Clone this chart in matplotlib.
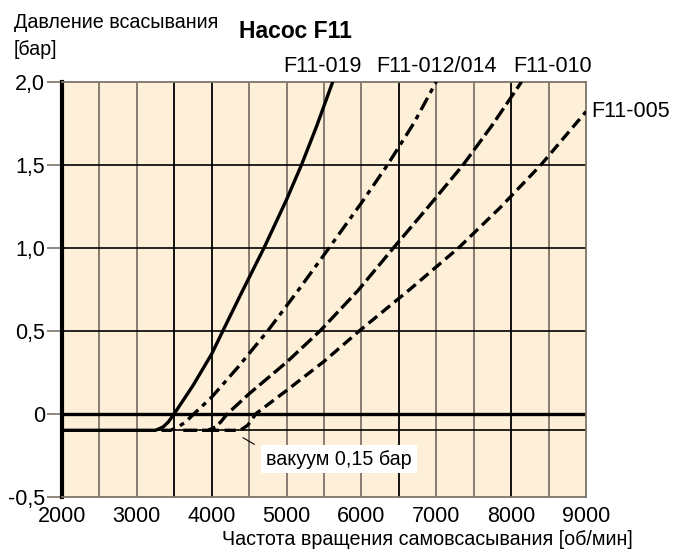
import matplotlib
matplotlib.use("Agg")
import matplotlib.pyplot as plt

plt.rcParams['font.family'] = ['Liberation Sans', 'DejaVu Sans']
plt.rcParams['lines.scale_dashes'] = False

# ---- data ----
rpm_019 = [2000, 3250, 3350, 3420, 3500, 3750, 4000, 4150, 4400, 4700, 5000, 5200, 5400, 5617]
p_019 = [-0.1, -0.1, -0.08, -0.05, 0.0, 0.17, 0.36, 0.5, 0.73, 1.0, 1.29, 1.5, 1.73, 2.0]

rpm_012 = [3330, 3450, 3550, 3650, 3765, 4000, 4350, 4750, 5150, 5570, 6000, 6350, 6700, 7000]
p_012 = [-0.1, -0.1, -0.08, -0.05, 0.0, 0.1, 0.28, 0.5, 0.74, 1.0, 1.27, 1.5, 1.75, 2.0]

rpm_010 = [3620, 3950, 4050, 4120, 4210, 4500, 5000, 5450, 5950, 6430, 6900, 7360, 7750, 8140]
p_010 = [-0.1, -0.1, -0.08, -0.05, 0.0, 0.12, 0.31, 0.5, 0.74, 1.0, 1.25, 1.5, 1.74, 2.0]

rpm_005 = [3950, 4380, 4480, 4530, 4590, 5000, 5500, 5975, 6650, 7300, 7850, 8400, 9000]
p_005 = [-0.1, -0.1, -0.07, -0.04, 0.0, 0.14, 0.315, 0.5, 0.75, 1.0, 1.24, 1.5, 1.82]

series_names = ['F11-019', 'F11-012/014', 'F11-010', 'F11-005']
x_ticks = [2000, 3000, 4000, 5000, 6000, 7000, 8000, 9000]
x_tick_labels = ['2000', '3000', '4000', '5000', '6000', '7000', '8000', '9000']
y_ticks = [-0.5, 0.0, 0.5, 1.0, 1.5, 2.0]
y_tick_labels = ['-0,5', '0', '0,5', '1,0', '1,5', '2,0']

FS = 15.5
FS_CYR = 14.2

fig = plt.figure(figsize=(6.74, 5.52), dpi=100)
ax = fig.add_axes([62/674, 1-496.7/552, (586-62)/674, (496.7-81.7)/552])
ax.set_facecolor('#fdefd8')
ax.set_xlim(2000, 9000)
ax.set_ylim(-0.5, 2.0)

# grid
gray = '#7d7368'
black_v = {3500, 4000, 6500, 8000}
for xv in range(2500, 9000, 500):
    ax.axvline(xv, color='black' if xv in black_v else gray, lw=1.3, zorder=1)
for yv in [0.5, 1.0, 1.5, -0.1]:
    ax.axhline(yv, color='black', lw=1.2, zorder=1)
ax.axhline(0.0, color='black', lw=2.4, zorder=1)

lw = 2.4
ax.plot(rpm_019, p_019, color='black', lw=lw, solid_capstyle='butt', zorder=3)
ax.plot(rpm_012, p_012, color='black', lw=lw, dashes=(10, 4, 3.5, 4), zorder=3)
ax.plot(rpm_010, p_010, color='black', lw=lw, dashes=(10, 3.5), zorder=3)
ax.plot(rpm_005, p_005, color='black', lw=lw, dashes=(8, 4), zorder=3)

# spines
for s in ['top', 'right', 'bottom']:
    ax.spines[s].set_color(gray)
    ax.spines[s].set_linewidth(1.3)
ax.spines['left'].set_color('black')
ax.spines['left'].set_linewidth(3)

ax.set_xticks(x_ticks)
ax.set_xticklabels(x_tick_labels, fontsize=FS)
ax.set_yticks(y_ticks)
ax.set_yticklabels(y_tick_labels, fontsize=FS)
ax.tick_params(axis='x', length=0, pad=7)
ax.tick_params(axis='y', length=11, width=1.2, color=gray, pad=1)

# series labels
ax.text(5475, 2.058, series_names[0], ha='center', va='baseline', fontsize=FS, clip_on=False)
ax.text(7006, 2.058, series_names[1], ha='center', va='baseline', fontsize=FS, clip_on=False)
ax.text(8558, 2.058, series_names[2], ha='center', va='baseline', fontsize=FS, clip_on=False)
ax.text(9070, 1.82, series_names[3], ha='left', va='center', fontsize=FS, clip_on=False)

# annotation
ax.plot([4420, 4567], [-0.145, -0.184], color='black', lw=0.8, zorder=3)
ax.text(4730, -0.273, 'вакуум 0,15 бар', ha='left', va='center', fontsize=FS_CYR, zorder=4,
        bbox=dict(facecolor='white', edgecolor='none', boxstyle='square,pad=0.25'))

# titles / labels
fig.text(14/674, 1-28/552, 'Давление всасывания', fontsize=FS_CYR, ha='left', va='baseline')
fig.text(14/674, 1-55/552, '[бар]', fontsize=FS_CYR, ha='left', va='baseline')
fig.text(239/674, 1-38/552, 'Насос F11', fontsize=16.5, fontweight='bold',
         ha='left', va='baseline')
fig.text(633/674, 1-545/552, 'Частота вращения самовсасывания [об/мин]', fontsize=FS_CYR,
         ha='right', va='baseline')

fig.savefig('out.png', dpi=100)
